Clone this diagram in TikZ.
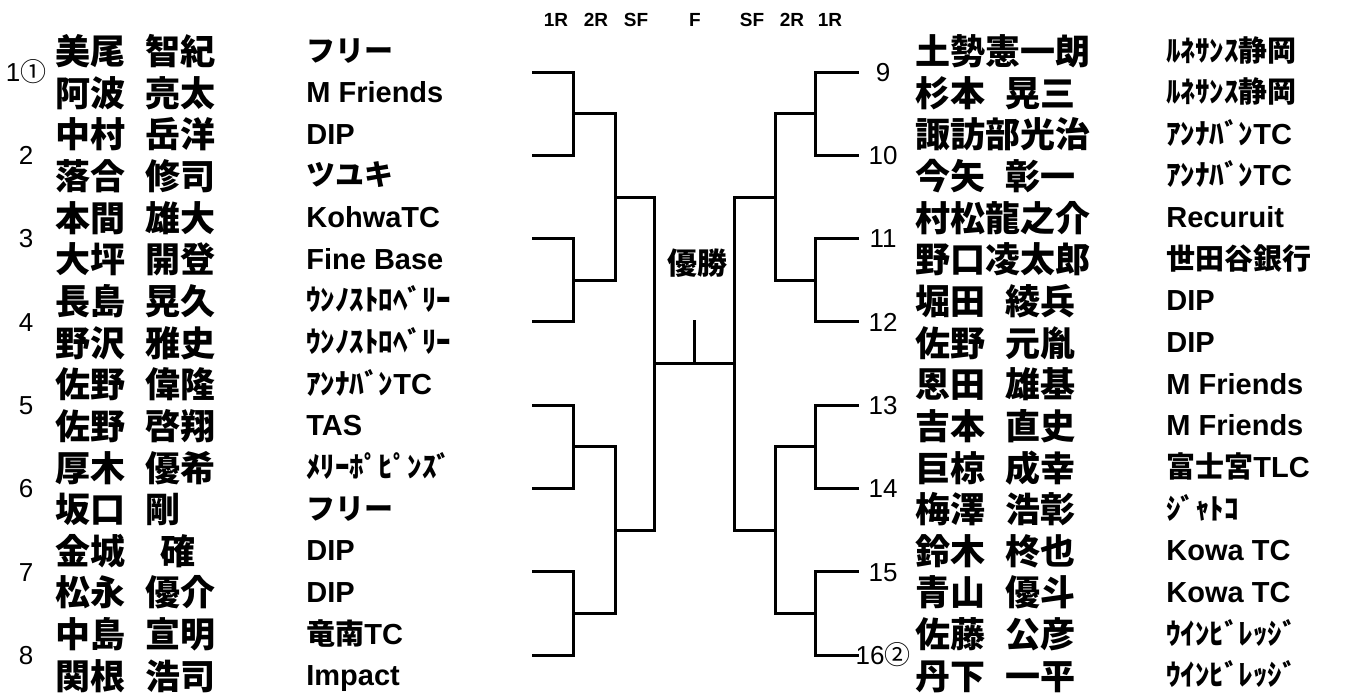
\documentclass[tikz,border=0pt]{standalone}
\usepackage{fontspec}
\setmainfont{Liberation Sans}
\newfontfamily\jp[WordSpace=2.5]{Noto Sans CJK JP}
\usepackage{tkz-euclide}
\usetikzlibrary{calc}

\tikzset{
  player/.style={anchor=west,inner sep=0pt,font=\jp\bfseries\fontsize{17.5pt}{18pt}\selectfont,text height=15.4pt,text depth=2.1pt},
  club/.style={anchor=west,inner sep=0pt,font=\bfseries\fontsize{14.5pt}{15pt}\selectfont,text height=12.8pt,text depth=3pt},
  seed/.style={inner sep=0pt,font=\fontsize{13pt}{14pt}\selectfont,text height=9.3pt,text depth=0pt},
  rnd/.style={inner sep=0pt,font=\bfseries\fontsize{9.5pt}{10pt}\selectfont},
  champ/.style={inner sep=0pt,font=\jp\bfseries\fontsize{15pt}{16pt}\selectfont,text height=13.2pt,text depth=1.8pt},
  bline/.style={line width=1.5pt,line cap=rect,color=black}
}

\begin{document}
\begin{tikzpicture}[x=0.5pt,y=-0.5pt]
                \useasboundingbox (0,0) rectangle (1346,693);

                \tkzDefPoints{533/72/la1,533/155.3/la2,533/238.6/la3,533/321.9/la4,533/405.2/la5,533/488.5/la6,533/571.8/la7,533/655.1/la8}
                \tkzDefPoints{573/72/lb1,573/155.3/lb2,573/238.6/lb3,573/321.9/lb4,573/405.2/lb5,573/488.5/lb6,573/571.8/lb7,573/655.1/lb8}
                \tkzDefPoints{573/113.7/lc1,573/280.3/lc2,573/446.9/lc3,573/613.5/lc4}
                \tkzDefPoints{615/113.7/ld1,615/280.3/ld2,615/446.9/ld3,615/613.5/ld4}
                \tkzDefPoints{615/197/le1,615/530.2/le2,654/197/lf1,654/530.2/lf2}
                \tkzDefPoints{654/363.6/lg,734/363.6/rg,694/363.6/W,694/321.9/Wt}
                \tkzDefPoints{734/197/rf1,734/530.2/rf2,775/197/re1,775/530.2/re2}
                \tkzDefPoints{775/113.7/rd1,775/280.3/rd2,775/446.9/rd3,775/613.5/rd4}
                \tkzDefPoints{815/113.7/rc1,815/280.3/rc2,815/446.9/rc3,815/613.5/rc4}
                \tkzDefPoints{815/72/rb1,815/155.3/rb2,815/238.6/rb3,815/321.9/rb4,815/405.2/rb5,815/488.5/rb6,815/571.8/rb7,815/655.1/rb8}
                \tkzDefPoints{857/72/ra1,857/155.3/ra2,857/238.6/ra3,857/321.9/ra4,857/405.2/ra5,857/488.5/ra6,857/571.8/ra7,857/655.1/ra8}

                \tkzDrawSegments[bline](la1,lb1 la2,lb2 la3,lb3 la4,lb4 la5,lb5 la6,lb6 la7,lb7 la8,lb8)
                \tkzDrawSegments[bline](lb1,lb2 lb3,lb4 lb5,lb6 lb7,lb8 lc1,ld1 lc2,ld2 lc3,ld3 lc4,ld4)
                \tkzDrawSegments[bline](ld1,ld2 ld3,ld4 le1,lf1 le2,lf2 lf1,lf2)
                \tkzDrawSegments[bline](lg,rg W,Wt)
                \tkzDrawSegments[bline](rf1,rf2 re1,rf1 re2,rf2 rd1,rd2 rd3,rd4)
                \tkzDrawSegments[bline](rc1,rd1 rc2,rd2 rc3,rd3 rc4,rd4 rb1,rb2 rb3,rb4 rb5,rb6 rb7,rb8)
                \tkzDrawSegments[bline](ra1,rb1 ra2,rb2 ra3,rb3 ra4,rb4 ra5,rb5 ra6,rb6 ra7,rb7 ra8,rb8)

                \node[rnd] (h1) at (556,20) {1R};
                \node[rnd] (h2) at (596,20) {2R};
                \node[rnd] (h3) at (636,20) {SF};
                \node[rnd] (h4) at (695,20) {F};
                \node[rnd] (h5) at (752,20) {SF};
                \node[rnd] (h6) at (792,20) {2R};
                \node[rnd] (h7) at (830,20) {1R};
                \node[champ] (win) at (697,263) {優勝};

                \node[seed] (s1) at (26,72) {1{\jp ①}};
                \node[seed] (s2) at (26,155.3) {2};
                \node[seed] (s3) at (26,238.6) {3};
                \node[seed] (s4) at (26,321.9) {4};
                \node[seed] (s5) at (26,405.2) {5};
                \node[seed] (s6) at (26,488.5) {6};
                \node[seed] (s7) at (26,571.8) {7};
                \node[seed] (s8) at (26,655.1) {8};
                \node[seed] (s9) at (883,72) {9};
                \node[seed] (s10) at (883,155.3) {10};
                \node[seed] (s11) at (883,238.6) {11};
                \node[seed] (s12) at (883,321.9) {12};
                \node[seed] (s13) at (883,405.2) {13};
                \node[seed] (s14) at (883,488.5) {14};
                \node[seed] (s15) at (883,571.8) {15};
                \node[seed] (s16) at (883,655.1) {16{\jp ②}};

                \node[player] (pl1) at (55,51.2) {美尾 智紀};
                \node[player] (pl2) at (55,92.8) {阿波 亮太};
                \node[player] (pl3) at (55,134.5) {中村 岳洋};
                \node[player] (pl4) at (55,176.1) {落合 修司};
                \node[player] (pl5) at (55,217.8) {本間 雄大};
                \node[player] (pl6) at (55,259.4) {大坪 開登};
                \node[player] (pl7) at (55,301.1) {長島 晃久};
                \node[player] (pl8) at (55,342.7) {野沢 雅史};
                \node[player] (pl9) at (55,384.4) {佐野 偉隆};
                \node[player] (pl10) at (55,426) {佐野 啓翔};
                \node[player] (pl11) at (55,467.7) {厚木 優希};
                \node[player] (pl12) at (55,509.3) {坂口 剛};
                \node[player] (pl13) at (55,551) {金城　確};
                \node[player] (pl14) at (55,592.6) {松永 優介};
                \node[player] (pl15) at (55,634.3) {中島 宣明};
                \node[player] (pl16) at (55,675.9) {関根 浩司};

                \node[club] (cl1) at (306,51.2) {{\jp フリー}};
                \node[club] (cl2) at (306,92.8) {M Friends};
                \node[club] (cl3) at (306,134.5) {DIP};
                \node[club] (cl4) at (306,176.1) {{\jp ツユキ}};
                \node[club] (cl5) at (306,217.8) {KohwaTC};
                \node[club] (cl6) at (306,259.4) {Fine Base};
                \node[club] (cl7) at (306,301.1) {{\jp ｳﾝﾉｽﾄﾛﾍﾞﾘｰ}};
                \node[club] (cl8) at (306,342.7) {{\jp ｳﾝﾉｽﾄﾛﾍﾞﾘｰ}};
                \node[club] (cl9) at (306,384.4) {{\jp ｱﾝﾅﾊﾞﾝ}TC};
                \node[club] (cl10) at (306,426) {TAS};
                \node[club] (cl11) at (306,467.7) {{\jp ﾒﾘｰﾎﾟﾋﾟﾝｽﾞ}};
                \node[club] (cl12) at (306,509.3) {{\jp フリー}};
                \node[club] (cl13) at (306,551) {DIP};
                \node[club] (cl14) at (306,592.6) {DIP};
                \node[club] (cl15) at (306,634.3) {{\jp 竜南}TC};
                \node[club] (cl16) at (306,675.9) {Impact};

                \node[player] (pr1) at (915,51.2) {土勢憲一朗};
                \node[player] (pr2) at (915,92.8) {杉本 晃三};
                \node[player] (pr3) at (915,134.5) {諏訪部光治};
                \node[player] (pr4) at (915,176.1) {今矢 彰一};
                \node[player] (pr5) at (915,217.8) {村松龍之介};
                \node[player] (pr6) at (915,259.4) {野口凌太郎};
                \node[player] (pr7) at (915,301.1) {堀田 綾兵};
                \node[player] (pr8) at (915,342.7) {佐野 元胤};
                \node[player] (pr9) at (915,384.4) {恩田 雄基};
                \node[player] (pr10) at (915,426) {吉本 直史};
                \node[player] (pr11) at (915,467.7) {巨椋 成幸};
                \node[player] (pr12) at (915,509.3) {梅澤 浩彰};
                \node[player] (pr13) at (915,551) {鈴木 柊也};
                \node[player] (pr14) at (915,592.6) {青山 優斗};
                \node[player] (pr15) at (915,634.3) {佐藤 公彦};
                \node[player] (pr16) at (915,675.9) {丹下 一平};

                \node[club] (cr1) at (1166,51.2) {{\jp ﾙﾈｻﾝｽ静岡}};
                \node[club] (cr2) at (1166,92.8) {{\jp ﾙﾈｻﾝｽ静岡}};
                \node[club] (cr3) at (1166,134.5) {{\jp ｱﾝﾅﾊﾞﾝ}TC};
                \node[club] (cr4) at (1166,176.1) {{\jp ｱﾝﾅﾊﾞﾝ}TC};
                \node[club] (cr5) at (1166,217.8) {Recuruit};
                \node[club] (cr6) at (1166,259.4) {{\jp 世田谷銀行}};
                \node[club] (cr7) at (1166,301.1) {DIP};
                \node[club] (cr8) at (1166,342.7) {DIP};
                \node[club] (cr9) at (1166,384.4) {M Friends};
                \node[club] (cr10) at (1166,426) {M Friends};
                \node[club] (cr11) at (1166,467.7) {{\jp 富士宮}TLC};
                \node[club] (cr12) at (1166,509.3) {{\jp ｼﾞｬﾄｺ}};
                \node[club] (cr13) at (1166,551) {Kowa TC};
                \node[club] (cr14) at (1166,592.6) {Kowa TC};
                \node[club] (cr15) at (1166,634.3) {{\jp ｳｲﾝﾋﾞﾚｯｼﾞ}};
                \node[club] (cr16) at (1166,675.9) {{\jp ｳｲﾝﾋﾞﾚｯｼﾞ}};
\end{tikzpicture}
\end{document}
